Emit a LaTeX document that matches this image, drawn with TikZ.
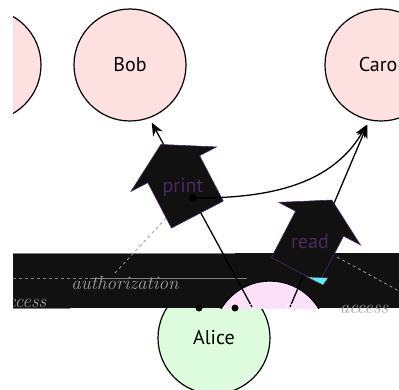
\documentclass[tikz,border=0pt]{standalone}
\usepackage{fontspec}
\newfontfamily\namefont{PT Sans}
\usetikzlibrary{shapes,shapes.arrows,arrows.meta,positioning,calc}
\definecolor{partypink}{HTML}{FDE0E0}
\definecolor{partygreen}{HTML}{DDFBDD}
\definecolor{permpurple}{HTML}{4B2A63}
\definecolor{bandblack}{HTML}{111111}
\definecolor{lilac}{HTML}{FBE0FA}
\definecolor{tipcyan}{HTML}{5DF0F8}
\tikzset{
>={Stealth[length=13pt,width=11pt]},
  party/.style={
    circle,
    draw=black, line width=1.2pt,
    minimum size=112pt,
    inner sep=0pt,
    font=\namefont\fontsize{20}{24}\selectfont},
  perm/.style={
    single arrow,
    shape border uses incircle,
    draw=permpurple, fill=bandblack, line width=0.6pt,
    text=permpurple,
    minimum height=79pt,
    minimum width=84pt,
    single arrow head extend=19pt,
    single arrow tip angle=120,
    inner sep=0pt,
    font=\namefont\fontsize{20}{24}\selectfont},
  flow/.style={draw, line width=1.3pt, ->, shorten >=5pt},
  relnote/.style={font=\itshape\fontsize{19}{23}\selectfont, text=gray!75},
  noteline/.style={draw=gray!80, dashed, line width=0.8pt},
  dot/.style={circle, fill=black, inner sep=0pt, minimum size=7pt},
  hole/.style={circle, draw=white, line width=0.6pt, inner sep=0pt, minimum size=6pt},
}
\begin{document}
\begin{tikzpicture}[x=1pt, y=1pt]
    \useasboundingbox (0,0) rectangle (399,389);
    \clip (13,0) rectangle (399,389);

    % parties
    \node[party, fill=partypink] (dave) at (-15,324) {};
    \node[party, fill=partypink] (bob) at (130,324) {Bob};
    \node[party, fill=partypink] (carol) at (381,324) {Carol};
    \node[party, fill=partygreen] (alice) at (214,51) {Alice};

    % band
    \fill[bandblack] (13,81) rectangle (399,136);
    \begin{scope}
        \clip (13,81) rectangle (399,136);
        \draw[fill=lilac, line width=1.2pt] (270,51) circle (57);
    \end{scope}
    \draw[gray, line width=0.8pt] (13,136) -- (235,136);
    \draw[gray, line width=0.8pt] (13,81) -- (70,81);
    \draw[gray, dashed, line width=0.8pt] (13,111) -- (90,111);
    \draw[gray, line width=0.8pt] (90,111) -- (247,111);

    % attachment points
    \coordinate (a1) at (252,82);
    \coordinate (a2) at (290,82);
    \node[dot] (d1) at (199,81) {};
    \node[dot] (d2) at (235,81) {};

    % flows
    \draw[flow] (a1) -- (bob.290);
    \draw[flow] (a2) -- (carol.258);

    % permissions
    \node[perm, shape border rotate=117.5] (print) at (183,202) {print};
    \node[perm, shape border rotate=62.5] (read) at (310,147) {read};
    \node[dot, minimum size=8pt] (pdot) at (193,191) {};
    \draw[flow] (pdot) to[out=0, in=240] (carol.258);

    % notes
    \node[relnote] (auth) at (125,106) {authorization};
    \node[relnote] (acc1) at (22,86) {access};
    \node[relnote] (acc2) at (364,80) {access};
    \coordinate (authtop) at (115,116);
    \coordinate (printfoot) at (167,172);
    \coordinate (readside) at (337,132);
    \coordinate (accfar) at (410,92);
    \draw[noteline] (authtop) -- (printfoot);
    \draw[noteline] (readside) -- (accfar);

    % marks
    \filldraw[fill=tipcyan, draw=black!70, line width=0.5pt]
        (307,112) -- (328,111) -- (323,104) -- cycle;
    \node[hole] (h1) at (a1) {};
    \node[hole] (h2) at (a2) {};

\end{tikzpicture}
\end{document}
